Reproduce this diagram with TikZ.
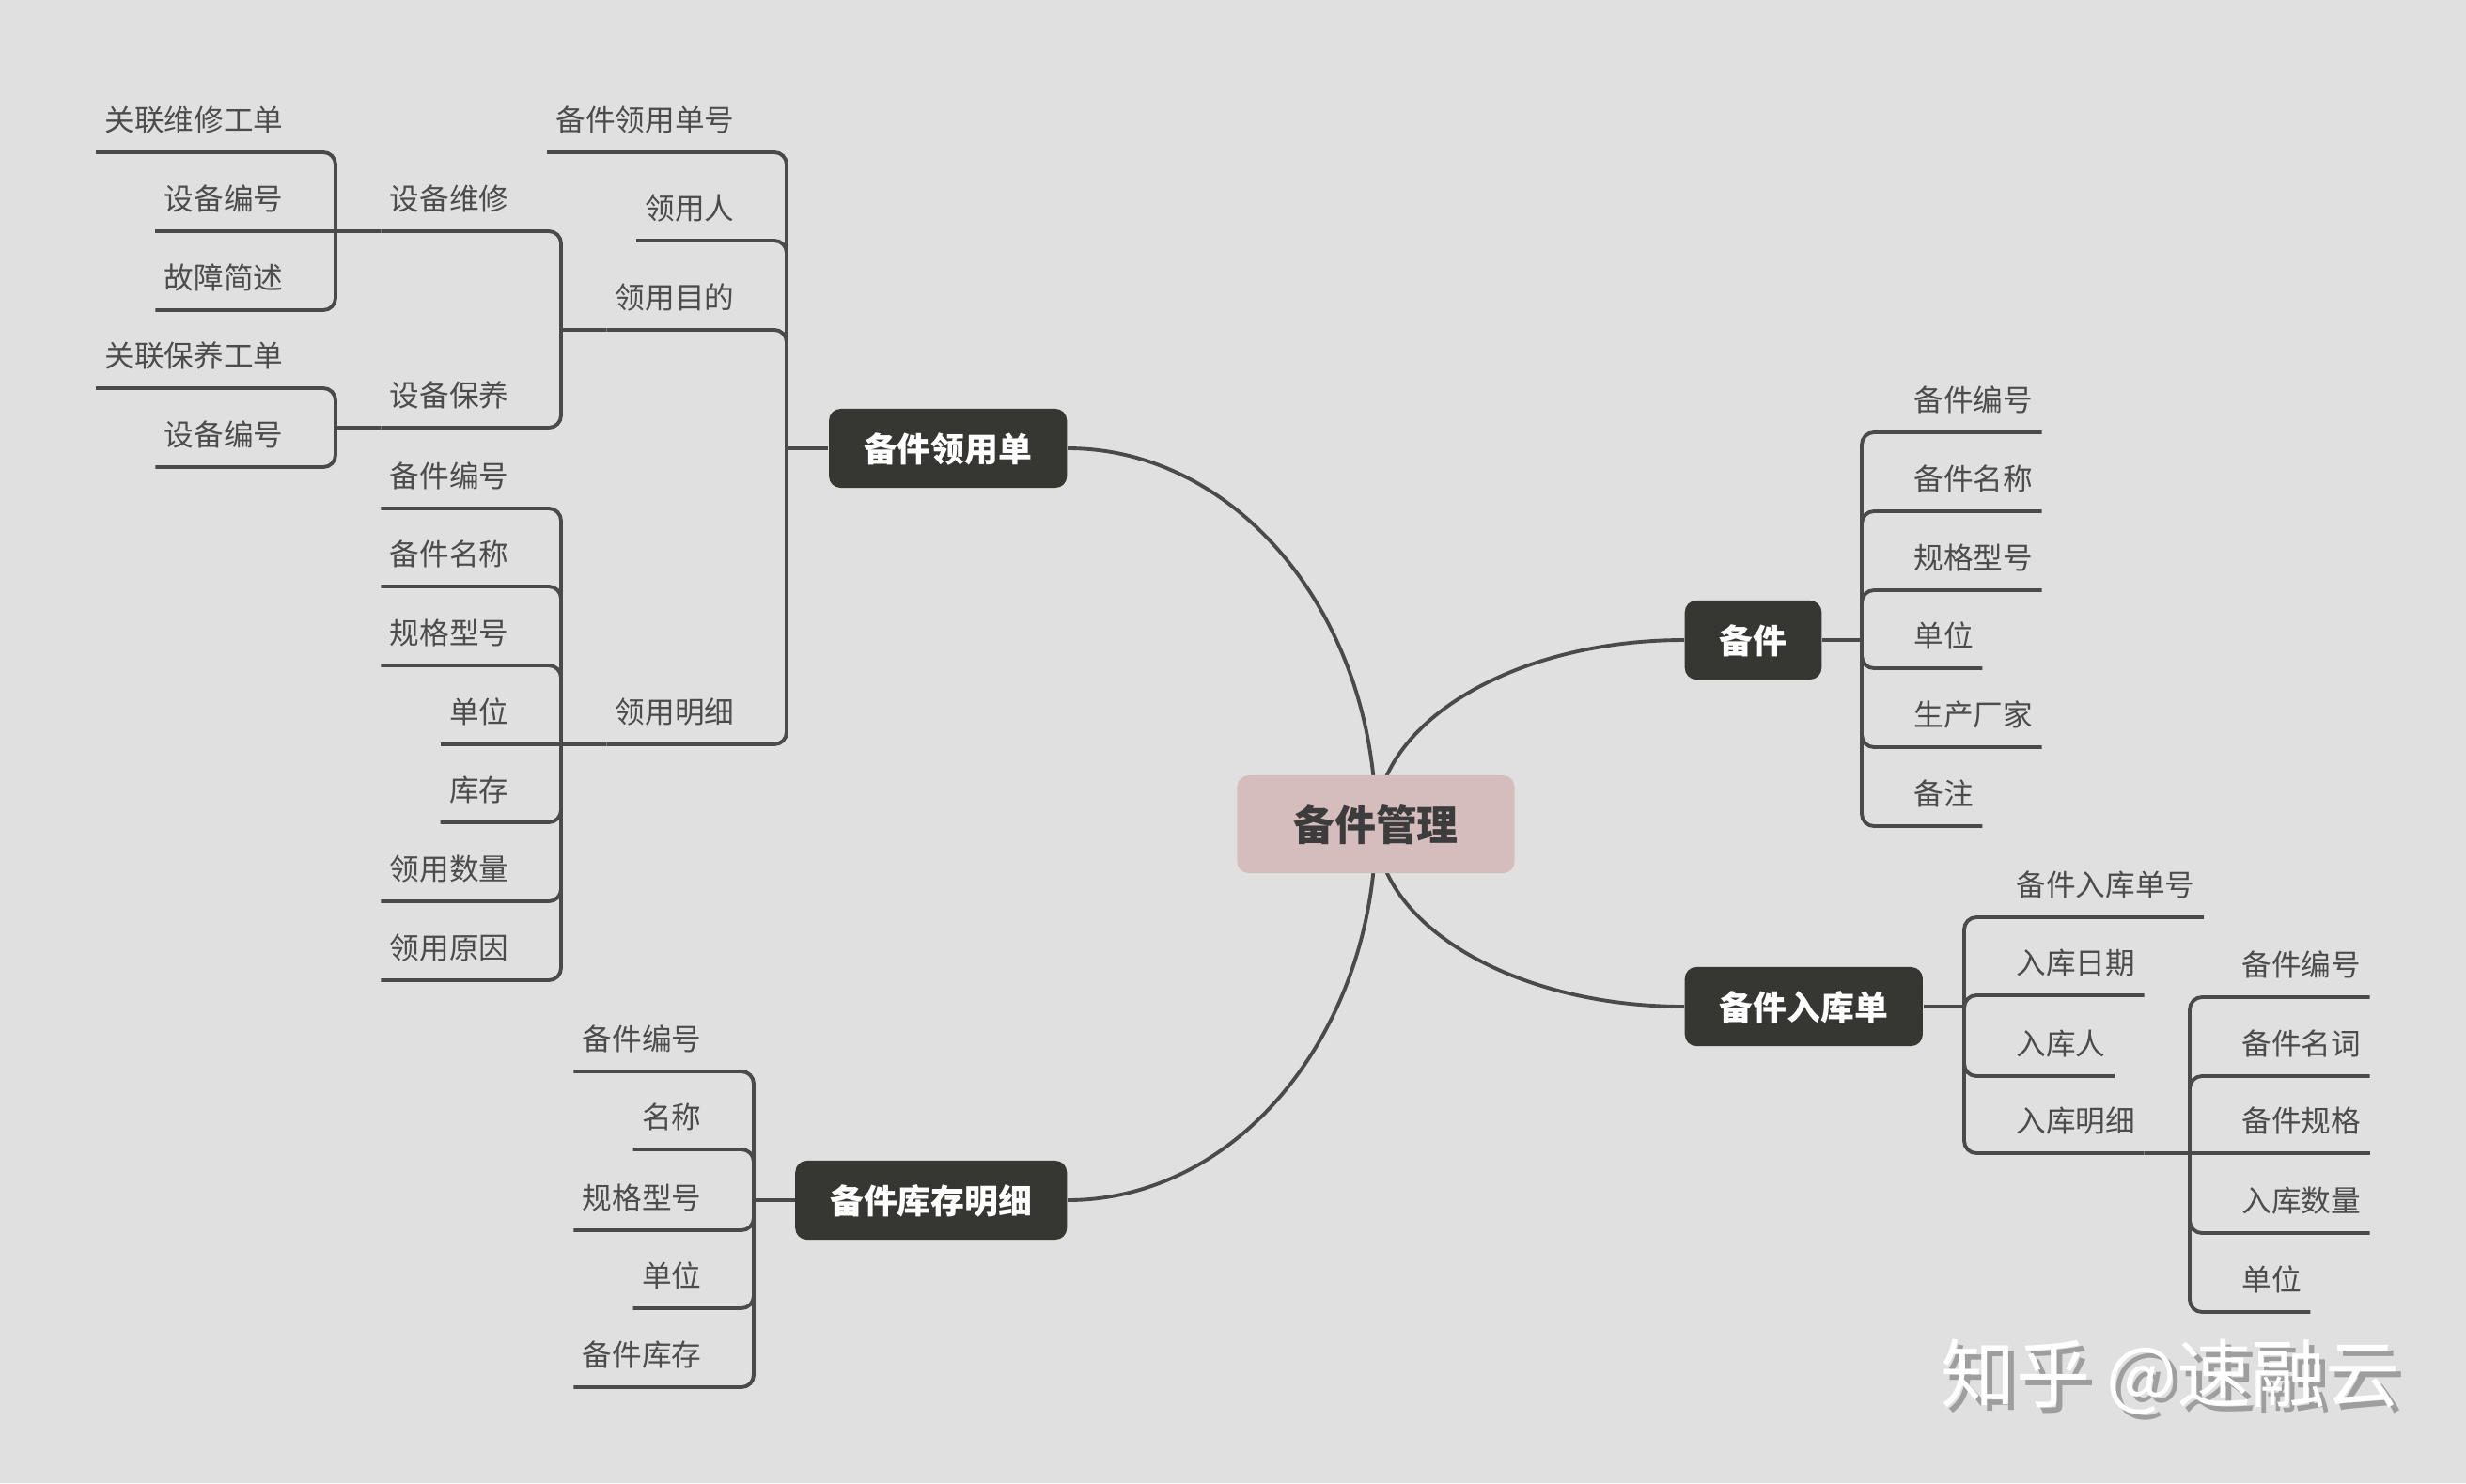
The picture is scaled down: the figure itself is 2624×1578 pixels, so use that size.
\documentclass[tikz,border=0pt]{standalone}
\usepackage{fontspec}
\setmainfont{Noto Sans CJK SC}
\usepackage{tikz}
\usetikzlibrary{backgrounds}
\definecolor{paper}{HTML}{E0E0E0}
\definecolor{ink}{HTML}{4A4A4A}
\definecolor{leaftext}{HTML}{4C4C4C}
\definecolor{boxfill}{HTML}{363632}
\definecolor{corefill}{HTML}{D6BDBD}
\definecolor{coretext}{HTML}{3C3C3C}
\definecolor{shade}{HTML}{9E9E9E}

\begin{document}
\begin{tikzpicture}[x=0.01cm, y=0.01cm,
    core/.style={fill=corefill, rounded corners=3.5pt, minimum width=2.95cm, minimum height=1.04cm,
      inner sep=0pt, text height=10pt, text depth=0pt, text=coretext,
      font=\fontsize{12.5pt}{15pt}\selectfont\bfseries},
    branch/.style={fill=boxfill, rounded corners=3.5pt, minimum height=0.84cm, inner xsep=10.5pt,
      inner ysep=0pt, text height=8pt, text depth=0pt, text=white,
      font=\fontsize{10.2pt}{12pt}\selectfont\bfseries},
    leaf/.style={inner xsep=2.5pt, inner ysep=6.2pt, text height=7pt, text depth=0pt, text=leaftext,
      font=\fontsize{9pt}{11pt}\selectfont},
    link/.style={draw=ink, line width=1.1pt, rounded corners=3.7pt},
    curve/.style={draw=ink, line width=1.1pt},
    watermark/.style={font=\fontsize{22.5pt}{26pt}\selectfont, inner sep=0pt}]
  \useasboundingbox (0,0) rectangle (2624,-1578);

  \node[core] (core) at (1464,-877) {备件管理};

  % 备件领用单
  \node[branch, anchor=east] (req) at (1136,-477) {备件领用单};
  \coordinate (req-j) at (837,-477);
  \node[leaf, anchor=south east] (req-no) at (791,-162) {备件领用单号};
  \node[leaf, anchor=south east] (req-who) at (791,-256) {领用人};
  \node[leaf, anchor=south east] (req-why) at (791,-351) {领用目的};
  \node[leaf, anchor=south east] (req-list) at (791,-792) {领用明细};
  \draw[link] (req.west) -- (req-j);
  \foreach \c in {req-no,req-who,req-why,req-list}
    \draw[link] (\c.south west) -| (req-j);

  % 领用目的
  \coordinate (why-j) at (597,-351);
  \node[leaf, anchor=south east] (why-rep) at (551,-246) {设备维修};
  \node[leaf, anchor=south east] (why-mnt) at (551,-455) {设备保养};
  \draw[link] (why-j) -- (req-why.south west);
  \foreach \c in {why-rep,why-mnt}
    \draw[link] (\c.south west) -| (why-j);

  % 设备维修
  \coordinate (rep-j) at (357,-246);
  \node[leaf, anchor=south east] (rep-1) at (311,-162) {关联维修工单};
  \node[leaf, anchor=south east] (rep-2) at (311,-246) {设备编号};
  \node[leaf, anchor=south east] (rep-3) at (311,-330) {故障简述};
  \draw[link] (rep-j) -- (why-rep.south west);
  \draw[link] (rep-2.south west) -- (rep-j);
  \foreach \c in {rep-1,rep-3}
    \draw[link] (\c.south west) -| (rep-j);

  % 设备保养
  \coordinate (mnt-j) at (357,-455);
  \node[leaf, anchor=south east] (mnt-1) at (311,-413) {关联保养工单};
  \node[leaf, anchor=south east] (mnt-2) at (311,-497) {设备编号};
  \draw[link] (mnt-j) -- (why-mnt.south west);
  \foreach \c in {mnt-1,mnt-2}
    \draw[link] (\c.south west) -| (mnt-j);

  % 领用明细
  \coordinate (list-j) at (597,-792);
  \node[leaf, anchor=south east] (list-1) at (551,-541) {备件编号};
  \node[leaf, anchor=south east] (list-2) at (551,-624) {备件名称};
  \node[leaf, anchor=south east] (list-3) at (551,-708) {规格型号};
  \node[leaf, anchor=south east] (list-4) at (551,-792) {单位};
  \node[leaf, anchor=south east] (list-5) at (551,-875) {库存};
  \node[leaf, anchor=south east] (list-6) at (551,-959) {领用数量};
  \node[leaf, anchor=south east] (list-7) at (551,-1043) {领用原因};
  \draw[link] (list-j) -- (req-list.south west);
  \draw[link] (list-4.south west) -- (list-j);
  \foreach \c in {list-1,list-2,list-3,list-5,list-6,list-7}
    \draw[link] (\c.south west) -| (list-j);

  % 备件
  \node[branch, anchor=west] (spare) at (1792,-681) {备件};
  \coordinate (spare-j) at (1981,-681);
  \node[leaf, anchor=south west] (spare-1) at (2027,-460) {备件编号};
  \node[leaf, anchor=south west] (spare-2) at (2027,-544) {备件名称};
  \node[leaf, anchor=south west] (spare-3) at (2027,-628) {规格型号};
  \node[leaf, anchor=south west] (spare-4) at (2027,-711) {单位};
  \node[leaf, anchor=south west] (spare-5) at (2027,-795) {生产厂家};
  \node[leaf, anchor=south west] (spare-6) at (2027,-879) {备注};
  \draw[link] (spare.east) -- (spare-j);
  \foreach \c in {spare-1,spare-2,spare-3,spare-4,spare-5,spare-6}
    \draw[link] (\c.south east) -| (spare-j);

  % 备件入库单
  \node[branch, anchor=west] (inb) at (1792,-1071) {备件入库单};
  \coordinate (inb-j) at (2090,-1071);
  \node[leaf, anchor=south west] (inb-1) at (2136,-976) {备件入库单号};
  \node[leaf, anchor=south west] (inb-2) at (2136,-1059) {入库日期};
  \node[leaf, anchor=south west] (inb-3) at (2136,-1145) {入库人};
  \node[leaf, anchor=south west] (inb-4) at (2136,-1227) {入库明细};
  \draw[link] (inb.east) -- (inb-j);
  \foreach \c in {inb-1,inb-2,inb-3,inb-4}
    \draw[link] (\c.south east) -| (inb-j);

  % 入库明细
  \coordinate (in-j) at (2330,-1227);
  \node[leaf, anchor=south west] (in-1) at (2376,-1061) {备件编号};
  \node[leaf, anchor=south west] (in-2) at (2376,-1145) {备件名词};
  \node[leaf, anchor=south west] (in-3) at (2376,-1227) {备件规格};
  \node[leaf, anchor=south west] (in-4) at (2376,-1312) {入库数量};
  \node[leaf, anchor=south west] (in-5) at (2376,-1396) {单位};
  \draw[link] (inb-4.south east) -- (in-j);
  \draw[link] (in-3.south east) -- (in-j);
  \foreach \c in {in-1,in-2,in-4,in-5}
    \draw[link] (\c.south east) -| (in-j);

  % 备件库存明细
  \node[branch, anchor=east] (stock) at (1136,-1277) {备件库存明细};
  \coordinate (stock-j) at (802,-1277);
  \node[leaf, anchor=south east] (stock-1) at (756,-1140) {备件编号};
  \node[leaf, anchor=south east] (stock-2) at (756,-1223) {名称};
  \node[leaf, anchor=south east] (stock-3) at (756,-1309) {规格型号};
  \node[leaf, anchor=south east] (stock-4) at (756,-1392) {单位};
  \node[leaf, anchor=south east] (stock-5) at (756,-1476) {备件库存};
  \draw[link] (stock.west) -- (stock-j);
  \foreach \c in {stock-1,stock-2,stock-3,stock-4,stock-5}
    \draw[link] (\c.south west) -| (stock-j);

  % watermark, white with a grey shadow
  \node[watermark] (mark) at (2310,-1468)
    {\rlap{\hspace{1.7pt}\raisebox{-1.7pt}{\textcolor{shade}{知乎 @速融云}}}\textcolor{white}{知乎 @速融云}};

  % curves from the centre, behind the boxes
  \begin{scope}[on background layer]
    \fill[paper] (0,0) rectangle (2624,-1578);
    \draw[curve] (core.center) .. controls +(0,221) and +(181,0) .. (req.east);
    \draw[curve] (core.center) .. controls +(0,108) and +(-181,0) .. (spare.west);
    \draw[curve] (core.center) .. controls +(0,-107) and +(-181,0) .. (inb.west);
    \draw[curve] (core.center) .. controls +(0,-221) and +(181,0) .. (stock.east);
  \end{scope}
\end{tikzpicture}
\end{document}
